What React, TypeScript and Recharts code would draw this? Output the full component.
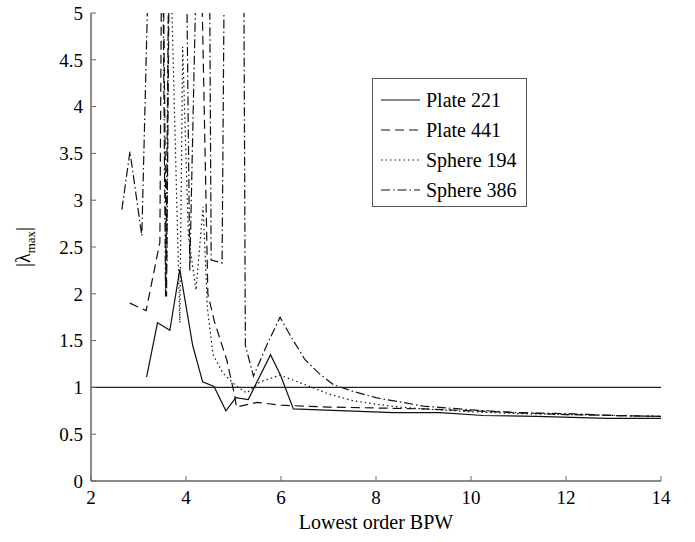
import React from 'react';
import { LineChart, Line, XAxis, YAxis, ReferenceLine, Legend } from 'recharts';

const FONT = '"Liberation Serif", "Times New Roman", serif';

const xTicks = [2, 4, 6, 8, 10, 12, 14];
const yTicks = [0, 0.5, 1, 1.5, 2, 2.5, 3, 3.5, 4, 4.5, 5];

// values above 5 run off the top of the axes (clipped like the original)
const plate221X = [3.17, 3.4, 3.66, 3.87, 4.14, 4.35, 4.59, 4.84, 5.05, 5.31, 5.78, 5.99, 6.26, 6.8, 7.38, 8.36, 9.35, 10.25, 11.38, 12.86, 14];
const plate221Y = [1.11, 1.69, 1.61, 2.26, 1.45, 1.06, 1.01, 0.75, 0.89, 0.87, 1.35, 1.13, 0.77, 0.76, 0.75, 0.73, 0.73, 0.7, 0.69, 0.67, 0.67];

const plate441X = [2.82, 3.16, 3.45, 3.48, 3.53, 3.59, 3.64, 4.34, 4.46, 4.6, 4.86, 5.03, 5.06, 5.5, 6.0, 6.5, 7, 8, 9, 10, 11, 12, 13, 14];
const plate441Y = [1.9, 1.82, 2.55, 5.1, 5.1, 1.97, 5.1, 5.1, 2.0, 1.7, 1.29, 0.9, 0.79, 0.84, 0.81, 0.8, 0.79, 0.78, 0.77, 0.75, 0.73, 0.71, 0.7, 0.69];

const sphere194X = [3.6, 3.63, 3.7, 3.87, 3.93, 4.05, 4.21, 4.36, 4.45, 4.57, 4.78, 5.07, 5.28, 5.56, 5.98, 6.4, 7.0, 7.5, 8, 8.5, 9, 10, 11, 12, 13, 14];
const sphere194Y = [2.3, 5.1, 5.1, 1.69, 4.64, 2.62, 2.04, 2.93, 1.85, 1.35, 1.15, 1.01, 0.94, 1.06, 1.13, 1.05, 0.93, 0.86, 0.82, 0.79, 0.77, 0.74, 0.72, 0.71, 0.7, 0.69];

const sphere386X = [2.65, 2.82, 3.07, 3.19, 3.52, 3.57, 3.63, 4.02, 4.08, 4.2, 4.5, 4.53, 4.76, 4.8, 5.22, 5.25, 5.42, 5.7, 5.98, 6.2, 6.5, 6.8, 7.1, 7.5, 8, 9, 10, 11, 12, 13, 14];
const sphere386Y = [2.9, 3.52, 2.62, 5.1, 5.1, 1.97, 5.1, 5.1, 2.25, 5.1, 5.1, 2.36, 2.33, 5.1, 5.1, 1.45, 1.12, 1.45, 1.75, 1.55, 1.3, 1.15, 1.03, 0.96, 0.89, 0.8, 0.76, 0.73, 0.72, 0.7, 0.69];

const toPoints = (xs: number[], ys: number[]) => xs.map((x, i) => ({ x, y: ys[i] }));

const series = [
  { name: 'Plate 221', data: toPoints(plate221X, plate221Y), dash: undefined as string | undefined },
  { name: 'Plate 441', data: toPoints(plate441X, plate441Y), dash: '9 5' },
  { name: 'Sphere 194', data: toPoints(sphere194X, sphere194Y), dash: '1.5 3' },
  { name: 'Sphere 386', data: toPoints(sphere386X, sphere386Y), dash: '9 3 1.5 3' },
];

const renderLegend = () => (
  <div
    style={{
      boxSizing: 'border-box',
      width: 155,
      height: 129,
      border: '1px solid #555',
      background: '#fff',
      paddingTop: 6,
      paddingLeft: 8,
      fontFamily: FONT,
      fontSize: 20,
      color: '#000',
    }}
  >
    {series.map((s) => (
      <div key={s.name} style={{ height: 30, display: 'flex', alignItems: 'center' }}>
        <svg width={39} height={10} style={{ marginRight: 6 }}>
          <line x1={0} y1={5} x2={39} y2={5} stroke="#111" strokeWidth={1.2} strokeDasharray={s.dash} />
        </svg>
        <span style={{ lineHeight: '30px' }}>{s.name}</span>
      </div>
    ))}
  </div>
);

const renderYLabel = () => (
  <text x={30} y={247} transform="rotate(-90, 30, 247)" textAnchor="middle" fontFamily={FONT} fontSize={20} fill="#000">
    |λ<tspan fontSize={13} dy={5}>max</tspan><tspan dy={-5}>|</tspan>
  </text>
);

const renderXLabel = () => (
  <text x={376} y={529} textAnchor="middle" fontFamily={FONT} fontSize={20} fill="#000">
    Lowest order BPW
  </text>
);

export default function App() {
  const tickStyle = { fill: '#000', fontSize: 19, fontFamily: FONT };
  const axisLine = { stroke: '#666', strokeWidth: 1.5 };
  return (
    <div style={{ position: 'absolute', left: 0, top: 0, width: 695, height: 542, background: '#fff' }}>
      <LineChart width={695} height={542} margin={{ top: 13, right: 34, bottom: 0, left: 0 }}>
        <XAxis
          xAxisId="b"
          type="number"
          dataKey="x"
          domain={[2, 14]}
          ticks={xTicks}
          interval={0}
          allowDataOverflow
          height={61}
          tickSize={-5}
          tickMargin={15}
          tick={tickStyle}
          axisLine={axisLine}
          tickLine={{ stroke: '#666' }}
          label={{ content: renderXLabel }}
        />
        <XAxis
          xAxisId="t"
          orientation="top"
          type="number"
          dataKey="x"
          domain={[2, 14]}
          ticks={xTicks}
          interval={0}
          allowDataOverflow
          height={0}
          tickSize={-5}
          tickFormatter={() => ''}
          axisLine={axisLine}
          tickLine={{ stroke: '#666' }}
        />
        <YAxis
          yAxisId="l"
          type="number"
          domain={[0, 5]}
          ticks={yTicks}
          interval={0}
          allowDataOverflow
          width={91}
          tickSize={-5}
          tickMargin={13}
          tick={tickStyle}
          axisLine={axisLine}
          tickLine={{ stroke: '#666' }}
          label={{ content: renderYLabel }}
        />
        <YAxis
          yAxisId="r"
          orientation="right"
          type="number"
          domain={[0, 5]}
          ticks={yTicks}
          interval={0}
          allowDataOverflow
          width={0}
          tickSize={-5}
          tickFormatter={() => ''}
          axisLine={axisLine}
          tickLine={{ stroke: '#666' }}
        />
        <ReferenceLine xAxisId="b" yAxisId="l" y={1} stroke="#222" strokeWidth={1.2} />
        {series.map((s) => (
          <Line
            key={s.name}
            xAxisId="b"
            yAxisId="l"
            data={s.data}
            dataKey="y"
            name={s.name}
            type="linear"
            stroke="#111"
            strokeWidth={1.2}
            strokeDasharray={s.dash}
            dot={false}
            activeDot={false}
            isAnimationActive={false}
          />
        ))}
        <Legend
          layout="vertical"
          align="center"
          verticalAlign="middle"
          content={renderLegend}
          wrapperStyle={{ position: 'absolute', left: 372, top: 78, width: 155, height: 129 }}
        />
      </LineChart>
    </div>
  );
}
